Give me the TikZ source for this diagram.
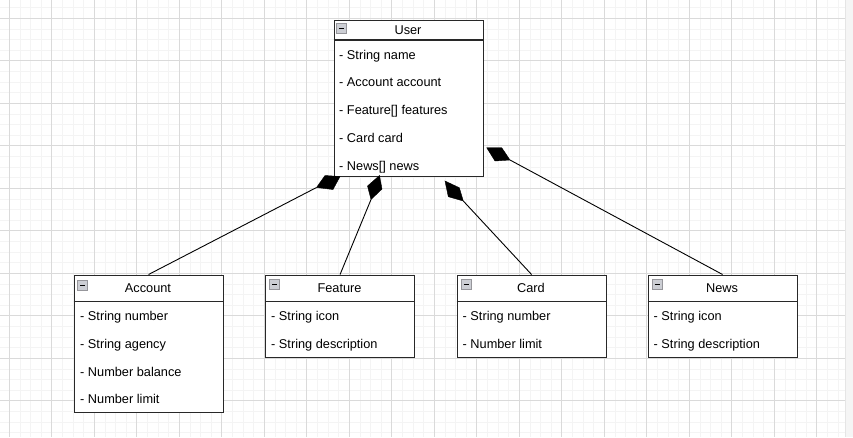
\documentclass[tikz,border=0pt]{standalone}
\usepackage{fontspec}
\setmainfont{Liberation Sans}
\definecolor{gminor}{RGB}{244,244,244}
\definecolor{gmajor}{RGB}{218,218,218}
\definecolor{boxline}{RGB}{40,40,40}
\definecolor{iconfill}{RGB}{204,206,212}
\definecolor{iconline}{RGB}{150,150,155}
\tikzset{
  umlbox/.style={draw=boxline, line width=1.1pt, fill=white, inner sep=0pt, anchor=north west},
  attr/.style={anchor=base west, inner sep=0pt, font=\fontsize{12.75}{14}\selectfont},
  ttl/.style={anchor=base, inner sep=0pt, font=\fontsize{12.75}{14}\selectfont},
  conn/.style={draw=black, line width=0.9pt},
  dmd/.style={fill=black, draw=black, line width=0.4pt, line join=miter},
  icon/.style={fill=iconfill, draw=iconline, line width=0.8pt}
}
\newcommand{\hdricon}[2]{%
  \draw[icon] (#1,#2) rectangle ++(10,10);
  \draw[black, line width=0.9pt] (#1+2.5,#2+5) -- ++(5,0);}
\begin{document}
\begin{tikzpicture}[x=1pt,y=-1pt]
\useasboundingbox (0,0) rectangle (853,437);
\fill[white] (0,0) rectangle (853,437);
% grid
\foreach \k in {0,...,79} {\draw[gminor, line width=0.8pt] ({-1.325+10.625*\k},0) -- ({-1.325+10.625*\k},437);}
\foreach \k in {0,...,40} {\draw[gminor, line width=0.8pt] (0,{7.675+10.625*\k}) -- (845,{7.675+10.625*\k});}
\foreach \k in {0,...,19} {\draw[gmajor, line width=0.8pt] ({9.3+42.5*\k},0) -- ({9.3+42.5*\k},437);}
\foreach \k in {0,...,9} {\draw[gmajor, line width=0.8pt] (0,{18.3+42.5*\k}) -- (845,{18.3+42.5*\k});}
\fill[white!96!black] (845.5,0) rectangle (853,437);
\draw[white!90!black, line width=0.8pt] (845.5,0) -- (845.5,437);

% boxes
\node[umlbox, minimum width=149pt, minimum height=156.5pt] (user) at (333.5,19.5) {};
\node[umlbox, minimum width=149pt, minimum height=137pt] (account) at (73.5,274.5) {};
\node[umlbox, minimum width=149pt, minimum height=82pt] (feature) at (265,274.5) {};
\node[umlbox, minimum width=149pt, minimum height=82pt] (card) at (456.5,274.5) {};
\node[umlbox, minimum width=149pt, minimum height=82pt] (news) at (647.5,274.5) {};

% header separators
\draw[boxline, line width=1.1pt] (333.5,40) -- (482.5,40);
\foreach \x in {73.5,265,456.5,647.5} {\draw[boxline, line width=1.1pt] (\x,301.5) -- (\x+149,301.5);}

% icons
\hdricon{336.5}{23.5}
\hdricon{77.5}{280}
\hdricon{269.5}{279.5}
\hdricon{461}{279.5}
\hdricon{652}{279.5}

% User
\node[ttl] (tuser) at (408,34) {User};
\node[attr] (u1) at (339,59) {- String name};
\node[attr] (u2) at (339,86.8) {- Account account};
\node[attr] (u3) at (339,114.6) {- Feature[] features};
\node[attr] (u4) at (339,142.4) {- Card card};
\node[attr] (u5) at (339,170.2) {- News[] news};

% Account
\node[ttl] (tacc) at (148,292.3) {Account};
\node[attr] (a1) at (80,320) {- String number};
\node[attr] (a2) at (80,348) {- String agency};
\node[attr] (a3) at (80,376) {- Number balance};
\node[attr] (a4) at (80,403.8) {- Number limit};

% Feature
\node[ttl] (tfea) at (339.5,292.3) {Feature};
\node[attr] (f1) at (271,320) {- String icon};
\node[attr] (f2) at (271,348) {- String description};

% Card
\node[ttl] (tcard) at (531,292.3) {Card};
\node[attr] (c1) at (462.5,320) {- String number};
\node[attr] (c2) at (462.5,348) {- Number limit};

% News
\node[ttl] (tnews) at (722,292.3) {News};
\node[attr] (n1) at (653.5,320) {- String icon};
\node[attr] (n2) at (653.5,348) {- String description};

% diamond coordinates
\coordinate (d1a) at (325,175.5); \coordinate (d1b) at (340,176.5);
\coordinate (d1c) at (333,189.5); \coordinate (d1d) at (316.5,187.5);
\coordinate (d2a) at (379.5,175.5); \coordinate (d2b) at (382,189);
\coordinate (d2c) at (371,199.5); \coordinate (d2d) at (367.5,186);
\coordinate (d3a) at (445,181); \coordinate (d3b) at (459.3,187.7);
\coordinate (d3c) at (463.3,201); \coordinate (d3d) at (448.3,196.7);
\coordinate (d4a) at (486.7,147.7); \coordinate (d4b) at (501.7,147.7);
\coordinate (d4c) at (510,160); \coordinate (d4d) at (495,161);

% connectors
\draw[conn] (account.north) -- (d1d);
\draw[conn] (feature.north) -- (d2c);
\draw[conn] (card.north) -- (d3c);
\draw[conn] (news.north) -- (d4c);

% diamonds
\filldraw[dmd] (d1a) -- (d1b) -- (d1c) -- (d1d) -- cycle;
\filldraw[dmd] (d2a) -- (d2b) -- (d2c) -- (d2d) -- cycle;
\filldraw[dmd] (d3a) -- (d3b) -- (d3c) -- (d3d) -- cycle;
\filldraw[dmd] (d4a) -- (d4b) -- (d4c) -- (d4d) -- cycle;
\end{tikzpicture}
\end{document}
